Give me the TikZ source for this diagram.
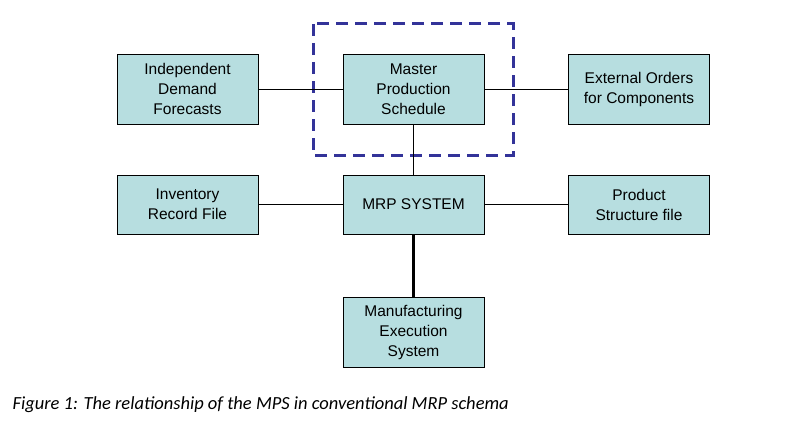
\documentclass[tikz,border=0pt]{standalone}
\usepackage{fontspec}
\setmainfont{Liberation Sans}
\newfontfamily\capfont{Carlito}
\begin{document}
\begin{tikzpicture}[x=1pt,y=-1pt,
                    box/.style={draw=black,fill=boxcyan,minimum width=141pt,minimum height=70pt,
                      align=center,inner sep=2pt,font=\fontsize{15.5}{20}\selectfont},
                    short box/.style={box,minimum height=59pt},
                    link/.style={line width=0.8pt}]
  \definecolor{boxcyan}{HTML}{B7DEE0}
  \definecolor{dashblue}{HTML}{333399}
  \useasboundingbox (0,0) rectangle (795,428);

  \node[box] (idf) at (187.5,89) {Independent\\Demand\\Forecasts};
  \node[box] (mps) at (413.5,89) {Master\\Production\\Schedule};
  \node[box] (ext) at (639,89) {External Orders\\for Components};
  \node[short box] (inv) at (187.5,204.5) {Inventory\\Record File};
  \node[short box] (mrp) at (413.5,204.5) {MRP SYSTEM};
  \node[short box] (psf) at (639,204.5) {Product\\Structure file};
  \node[box] (mes) at (413.5,332.5) {Manufacturing\\Execution\\System};

  \draw[dashblue,line width=3pt,dash pattern=on 12pt off 7pt] (313,24) rectangle (513,155);

  \draw[link] (idf) -- (mps);
  \draw[link] (mps) -- (ext);
  \draw[link] (mps) -- (mrp);
  \draw[link] (inv) -- (mrp);
  \draw[link] (mrp) -- (psf);
  \draw[line width=3.5pt] (mrp) -- (mes);

  \node[anchor=west,font=\capfont\itshape\fontsize{18.5}{22}\selectfont] (cap) at (9,405)
    {Figure 1: The relationship of the MPS in conventional MRP schema};
\end{tikzpicture}
\end{document}
